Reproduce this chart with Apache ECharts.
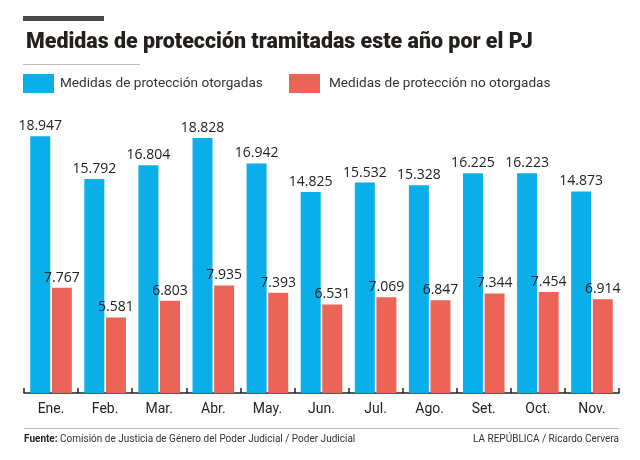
<!DOCTYPE html>
<html><head><meta charset="utf-8">
<script src="https://cdn.jsdelivr.net/npm/echarts@6/dist/echarts.min.js"></script>
<style>html,body{margin:0;padding:0;background:#fff}#c{width:640px;height:460px}</style>
</head><body><div id="c"></div>
<script>
const categories = ['Ene.','Feb.','Mar.','Abr.','May.','Jun.','Jul.','Ago.','Set.','Oct.','Nov.'];
const otorgadas = [18947,15792,16804,18828,16942,14825,15532,15328,16225,16223,14873];
const noOtorgadas = [7767,5581,6803,7935,7393,6531,7069,6847,7344,7454,6914];
const seriesNames = ['Medidas de protección otorgadas','Medidas de protección no otorgadas'];
const titleText = 'Medidas de protección tramitadas este año por el PJ';

const fmt = v => String(v).replace(/\B(?=(\d{3})+(?!\d))/g, '.');
const chart = echarts.init(document.getElementById('c'));
const lbl = {show:true, position:'top', distance:3, fontFamily:'Open Sans', fontSize:14, color:'#222',
  formatter: p => fmt(p.value)};
chart.setOption({
  animation:false,
  textStyle:{fontFamily:'Open Sans'},
  title:{text:titleText, left:21, top:27, textStyle:{fontFamily:'Roboto', fontWeight:900, fontSize:21.4, color:'#231f1c'}},
  legend:[
    {data:[seriesNames[0]], left:23, top:74, itemWidth:31, itemHeight:19, itemGap:0, icon:'rect', padding:0,
     textStyle:{fontFamily:'Roboto', fontSize:13.6, color:'#333', padding:[0,0,0,1]}},
    {data:[seriesNames[1]], left:289, top:74, itemWidth:31, itemHeight:19, itemGap:0, icon:'rect', padding:0,
     textStyle:{fontFamily:'Roboto', fontSize:13.6, color:'#333', padding:[0,0,0,4]}}
  ],
  graphic:[
    {type:'rect', shape:{x:23,y:16,width:81,height:5}, style:{fill:'#4a4a4a'}},
    {type:'rect', shape:{x:23,y:64,width:117,height:1}, style:{fill:'#bbbbbb'}},
    {type:'rect', shape:{x:24,y:428,width:595,height:1}, style:{fill:'#bbbbbb'}},
    {type:'text', left:24, top:434, style:{text:'{b|Fuente:} Comisión de Justicia de Género del Poder Judicial / Poder Judicial',
      rich:{b:{fontWeight:'bold', fontFamily:'Roboto', fontSize:10, fill:'#222'}}, fontFamily:'Roboto', fontSize:10, fill:'#333'}},
    {type:'text', right:21, top:434, style:{text:'LA REPÚBLICA / Ricardo Cervera', fontFamily:'Roboto', fontSize:10, fill:'#333'}}
  ],
  grid:{left:24, right:21, top:122, bottom:67},
  xAxis:{type:'category', data:categories,
    axisLine:{lineStyle:{color:'#222', width:1.5}},
    axisTick:{show:true, inside:true, length:5, lineStyle:{color:'#222', width:1.5}},
    axisLabel:{fontFamily:'Roboto', fontSize:14, color:'#222', margin:9}},
  yAxis:{type:'value', min:0, max:20000, show:false, splitLine:{show:false}},
  series:[
    {name:seriesNames[0], type:'bar', data:otorgadas, barWidth:20, barGap:'8%', itemStyle:{color:'#0aaee8'}, label:lbl},
    {name:seriesNames[1], type:'bar', data:noOtorgadas, barWidth:20, itemStyle:{color:'#ec6457'}, label:lbl}
  ]
});
</script></body></html>
